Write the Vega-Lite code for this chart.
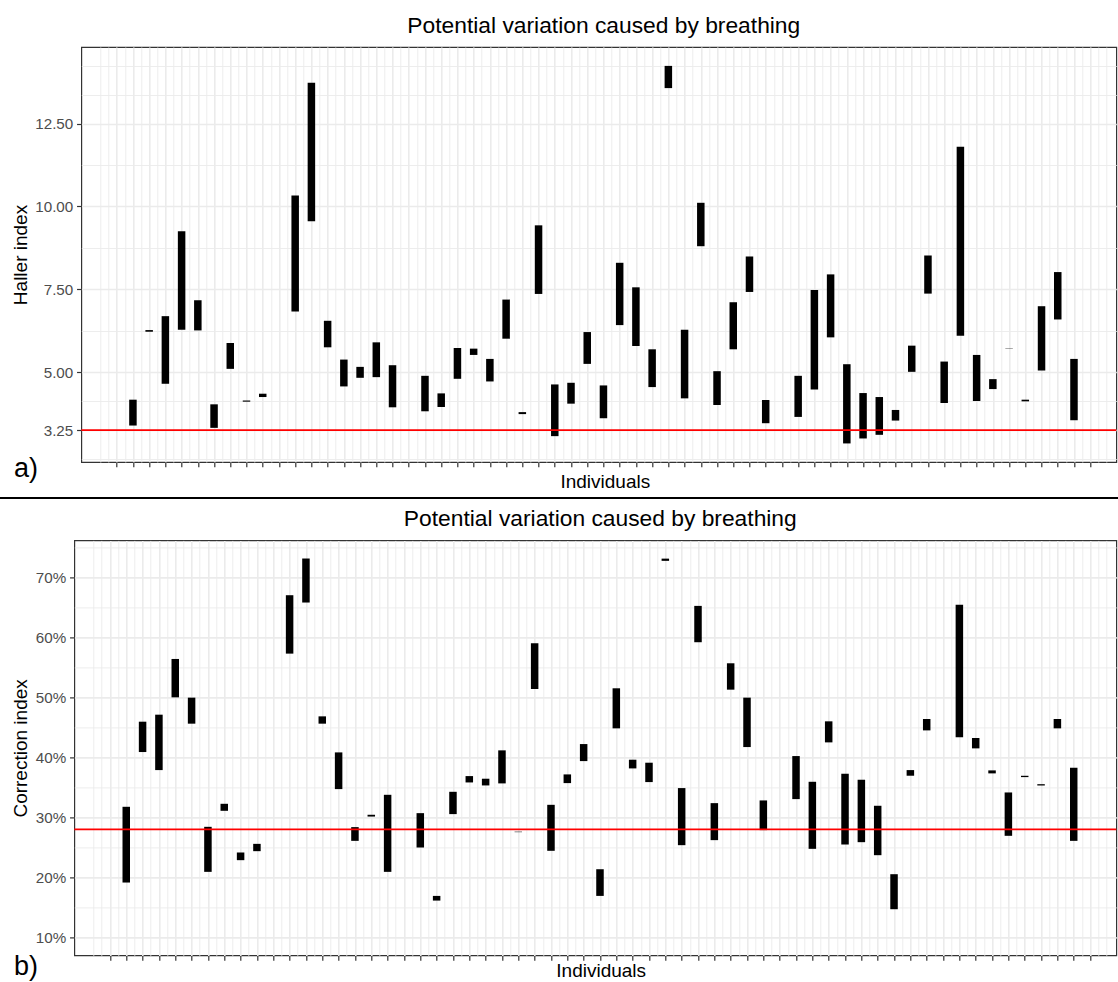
{
  "$schema": "https://vega.github.io/schema/vega-lite/v6.json",
  "padding": {"left": 0, "top": 14, "right": 0, "bottom": 0},
  "background": "white",
  "config": {
    "font": "Liberation Sans",
    "view": {"stroke": "#333333", "strokeWidth": 1.2},
    "axis": {
      "domain": false,
      "tickCount": 1000,
      "gridColor": "#EBEBEB",
      "tickColor": "#333333",
      "tickWidth": 1.2,
      "tickSize": 4.75,
      "labelColor": "#4D4D4D",
      "labelFontSize": 15.2,
      "labelPadding": 3.8,
      "titleColor": "#000000",
      "titleFontSize": 19,
      "titleFontWeight": "normal"
    },
    "title": {"fontWeight": "normal", "color": "#000000"}
  },
  "datasets": {
    "haller": [
      {"ind": 1, "lo": 3.39, "hi": 4.17},
      {"ind": 2, "lo": 6.22, "hi": 6.27},
      {"ind": 3, "lo": 4.65, "hi": 6.69},
      {"ind": 4, "lo": 6.28, "hi": 9.25},
      {"ind": 5, "lo": 6.26, "hi": 7.17},
      {"ind": 6, "lo": 3.32, "hi": 4.03},
      {"ind": 7, "lo": 5.10, "hi": 5.88},
      {"ind": 8, "lo": 4.11, "hi": 4.145},
      {"ind": 9, "lo": 4.25, "hi": 4.35},
      {"ind": 11, "lo": 6.83, "hi": 10.33},
      {"ind": 12, "lo": 9.55, "hi": 13.73},
      {"ind": 13, "lo": 5.75, "hi": 6.55},
      {"ind": 14, "lo": 4.57, "hi": 5.38},
      {"ind": 15, "lo": 4.83, "hi": 5.16},
      {"ind": 16, "lo": 4.85, "hi": 5.90},
      {"ind": 17, "lo": 3.94, "hi": 5.21},
      {"ind": 19, "lo": 3.82, "hi": 4.89},
      {"ind": 20, "lo": 3.95, "hi": 4.36},
      {"ind": 21, "lo": 4.80, "hi": 5.73},
      {"ind": 22, "lo": 5.52, "hi": 5.71},
      {"ind": 23, "lo": 4.72, "hi": 5.40},
      {"ind": 24, "lo": 6.01, "hi": 7.19},
      {"ind": 25, "lo": 3.735, "hi": 3.795},
      {"ind": 26, "lo": 7.36, "hi": 9.43},
      {"ind": 27, "lo": 3.07, "hi": 4.63},
      {"ind": 28, "lo": 4.05, "hi": 4.68},
      {"ind": 29, "lo": 5.25, "hi": 6.21},
      {"ind": 30, "lo": 3.61, "hi": 4.60},
      {"ind": 31, "lo": 6.42, "hi": 8.30},
      {"ind": 32, "lo": 5.79, "hi": 7.56},
      {"ind": 33, "lo": 4.55, "hi": 5.69},
      {"ind": 34, "lo": 13.57, "hi": 14.24},
      {"ind": 35, "lo": 4.21, "hi": 6.28},
      {"ind": 36, "lo": 8.80, "hi": 10.11},
      {"ind": 37, "lo": 4.01, "hi": 5.03},
      {"ind": 38, "lo": 5.69, "hi": 7.11},
      {"ind": 39, "lo": 7.42, "hi": 8.49},
      {"ind": 40, "lo": 3.46, "hi": 4.16},
      {"ind": 42, "lo": 3.65, "hi": 4.89},
      {"ind": 43, "lo": 4.48, "hi": 7.48},
      {"ind": 44, "lo": 6.05, "hi": 7.95},
      {"ind": 45, "lo": 2.85, "hi": 5.24},
      {"ind": 46, "lo": 3.00, "hi": 4.37},
      {"ind": 47, "lo": 3.11, "hi": 4.25},
      {"ind": 48, "lo": 3.54, "hi": 3.86},
      {"ind": 49, "lo": 5.01, "hi": 5.80},
      {"ind": 50, "lo": 7.37, "hi": 8.52},
      {"ind": 51, "lo": 4.07, "hi": 5.32},
      {"ind": 52, "lo": 6.10, "hi": 11.80},
      {"ind": 53, "lo": 4.13, "hi": 5.52},
      {"ind": 54, "lo": 4.49, "hi": 4.79},
      {"ind": 55, "lo": 5.708, "hi": 5.718},
      {"ind": 56, "lo": 4.12, "hi": 4.17},
      {"ind": 57, "lo": 5.05, "hi": 6.99},
      {"ind": 58, "lo": 6.59, "hi": 8.02},
      {"ind": 59, "lo": 3.55, "hi": 5.40}
    ],
    "correction": [
      {"ind": 1, "lo": 19.15, "hi": 31.78},
      {"ind": 2, "lo": 40.91, "hi": 45.97},
      {"ind": 3, "lo": 37.9, "hi": 47.14},
      {"ind": 4, "lo": 50.03, "hi": 56.43},
      {"ind": 5, "lo": 45.64, "hi": 49.98},
      {"ind": 6, "lo": 20.93, "hi": 28.44},
      {"ind": 7, "lo": 31.11, "hi": 32.28},
      {"ind": 8, "lo": 22.88, "hi": 24.16},
      {"ind": 9, "lo": 24.38, "hi": 25.6},
      {"ind": 11, "lo": 57.32, "hi": 67.06},
      {"ind": 12, "lo": 65.84, "hi": 73.18},
      {"ind": 13, "lo": 45.64, "hi": 46.86},
      {"ind": 14, "lo": 34.73, "hi": 40.85},
      {"ind": 15, "lo": 26.1, "hi": 28.39},
      {"ind": 16, "lo": 30.15, "hi": 30.45},
      {"ind": 17, "lo": 20.93, "hi": 33.78},
      {"ind": 19, "lo": 24.99, "hi": 30.72},
      {"ind": 20, "lo": 16.14, "hi": 16.92},
      {"ind": 21, "lo": 30.56, "hi": 34.28},
      {"ind": 22, "lo": 35.84, "hi": 36.9},
      {"ind": 23, "lo": 35.34, "hi": 36.46},
      {"ind": 24, "lo": 35.68, "hi": 41.19},
      {"ind": 25, "lo": 27.55, "hi": 27.63},
      {"ind": 26, "lo": 51.42, "hi": 59.05},
      {"ind": 27, "lo": 24.44, "hi": 32.11},
      {"ind": 28, "lo": 35.73, "hi": 37.18},
      {"ind": 29, "lo": 39.4, "hi": 42.24},
      {"ind": 30, "lo": 16.92, "hi": 21.37},
      {"ind": 31, "lo": 44.86, "hi": 51.54},
      {"ind": 32, "lo": 38.18, "hi": 39.63},
      {"ind": 33, "lo": 35.9, "hi": 39.13},
      {"ind": 34, "lo": 72.79, "hi": 73.16},
      {"ind": 35, "lo": 25.38, "hi": 34.9},
      {"ind": 36, "lo": 59.22, "hi": 65.28},
      {"ind": 37, "lo": 26.22, "hi": 32.39},
      {"ind": 38, "lo": 51.31, "hi": 55.71},
      {"ind": 39, "lo": 41.74, "hi": 49.98},
      {"ind": 40, "lo": 27.89, "hi": 32.84},
      {"ind": 42, "lo": 33.06, "hi": 40.24},
      {"ind": 43, "lo": 24.77, "hi": 35.95},
      {"ind": 44, "lo": 42.52, "hi": 46.03},
      {"ind": 45, "lo": 25.49, "hi": 37.29},
      {"ind": 46, "lo": 25.88, "hi": 36.29},
      {"ind": 47, "lo": 23.71, "hi": 31.95},
      {"ind": 48, "lo": 14.7, "hi": 20.54},
      {"ind": 49, "lo": 36.96, "hi": 37.9},
      {"ind": 50, "lo": 44.52, "hi": 46.42},
      {"ind": 52, "lo": 43.36, "hi": 65.45},
      {"ind": 53, "lo": 41.52, "hi": 43.25},
      {"ind": 54, "lo": 37.35, "hi": 37.85},
      {"ind": 55, "lo": 26.94, "hi": 34.17},
      {"ind": 56, "lo": 36.73, "hi": 36.95},
      {"ind": 57, "lo": 35.33, "hi": 35.55},
      {"ind": 58, "lo": 44.86, "hi": 46.42},
      {"ind": 59, "lo": 26.1, "hi": 38.29}
    ],
    "haller_ref": [{"ref": 3.25}],
    "correction_ref": [{"ref": 28}]
  },
  "spacing": 8.4,
  "vconcat": [
    {
      "spacing": 5,
      "vconcat": [
        {
          "title": {"text": "a)", "orient": "bottom", "anchor": "start", "frame": "bounds", "fontSize": 27, "baseline": "alphabetic", "offset": -15.3, "dx": 14},
          "spacing": 9.3,
          "hconcat": [
            {
              "width": 1, "height": 1,
              "data": {"values": []},
              "mark": "point",
              "encoding": {},
              "view": {"stroke": null}
            },
            {
              "width": 1035,
              "height": 415,
              "title": {"text": "Potential variation caused by breathing", "fontSize": 22.8, "frame": "group", "anchor": "middle", "dx": 5, "baseline": "alphabetic", "offset": -8.4},
              "layer": [
                {
                  "data": {"name": "haller"},
                  "mark": {"type": "bar", "width": 7.5, "color": "#000000"},
                  "encoding": {
                    "x": {
                      "field": "ind", "type": "quantitative",
                      "scale": {"domain": [-1.874, 61.3], "nice": false, "zero": false},
                      "axis": {
                        "title": "Individuals",
                        "titleX": 523.5,
                        "titlePadding": 4.85,
                        "labels": false,
                        "tickCount": 1000,
                        "values": [-1,-0.5,0,0.5,1,1.5,2,2.5,3,3.5,4,4.5,5,5.5,6,6.5,7,7.5,8,8.5,9,9.5,10,10.5,11,11.5,12,12.5,13,13.5,14,14.5,15,15.5,16,16.5,17,17.5,18,18.5,19,19.5,20,20.5,21,21.5,22,22.5,23,23.5,24,24.5,25,25.5,26,26.5,27,27.5,28,28.5,29,29.5,30,30.5,31,31.5,32,32.5,33,33.5,34,34.5,35,35.5,36,36.5,37,37.5,38,38.5,39,39.5,40,40.5,41,41.5,42,42.5,43,43.5,44,44.5,45,45.5,46,46.5,47,47.5,48,48.5,49,49.5,50,50.5,51,51.5,52,52.5,53,53.5,54,54.5,55,55.5,56,56.5,57,57.5,58,58.5,59,59.5,60,60.5,61],
                        "tickOpacity": {"condition": {"test": "datum.value < 0 || datum.value > 60 || datum.value % 1 !== 0", "value": 0}, "value": 1},
                        "gridWidth": {"condition": {"test": "datum.value < 0 || datum.value > 60 || datum.value % 1 !== 0", "value": 0.9}, "value": 1.6}
                      }
                    },
                    "y": {
                      "field": "lo", "type": "quantitative",
                      "title": "Haller index",
                      "scale": {"domain": [2.29, 14.81], "nice": false, "zero": false},
                      "axis": {
                        "title": "Haller index",
                        "titlePadding": 4.5,
                        "tickCount": 1000,
                        "values": [2.375, 3.25, 4.125, 5, 6.25, 7.5, 8.75, 10, 11.25, 12.5, 13.375, 14.25],
                        "labelOverlap": false,
                        "labelExpr": "(datum.value == 3.25 || datum.value == 5 || datum.value == 7.5 || datum.value == 10 || datum.value == 12.5) ? format(datum.value, '.2f') : ''",
                        "tickOpacity": {"condition": {"test": "datum.value == 2.375 || datum.value == 4.125 || datum.value == 6.25 || datum.value == 8.75 || datum.value == 11.25 || datum.value == 13.375 || datum.value == 14.25", "value": 0}, "value": 1},
                        "gridWidth": {"condition": {"test": "datum.value == 2.375 || datum.value == 4.125 || datum.value == 6.25 || datum.value == 8.75 || datum.value == 11.25 || datum.value == 13.375 || datum.value == 14.25", "value": 0.9}, "value": 1.6}
                      }
                    },
                    "y2": {"field": "hi"}
                  }
                },
                {
                  "data": {"name": "haller_ref"},
                  "mark": {"type": "rule", "color": "#FF0000", "strokeWidth": 1.7},
                  "encoding": {"y": {"field": "ref", "type": "quantitative", "title": "Haller index"}}
                }
              ]
            }
          ]
        },
        {
          "width": 1118,
          "height": 2,
          "data": {"values": []},
          "mark": "point",
          "encoding": {},
          "view": {"fill": "#000000", "stroke": null}
        }
      ]
    },
    {
      "title": {"text": "b)", "orient": "bottom", "anchor": "start", "frame": "bounds", "fontSize": 27, "baseline": "alphabetic", "offset": -6.2, "dx": 14},
      "spacing": 9.3,
      "hconcat": [
        {
          "width": 1, "height": 1,
          "data": {"values": []},
          "mark": "point",
          "encoding": {},
          "view": {"stroke": null}
        },
        {
          "width": 1042,
          "height": 415,
          "title": {"text": "Potential variation caused by breathing", "fontSize": 22.8, "frame": "group", "anchor": "middle", "dx": 5, "baseline": "alphabetic", "offset": -8.6},
          "layer": [
            {
              "data": {"name": "correction"},
              "mark": {"type": "bar", "width": 7.5, "color": "#000000"},
              "encoding": {
                "x": {
                  "field": "ind", "type": "quantitative",
                  "scale": {"domain": [-1.874, 61.3], "nice": false, "zero": false},
                  "axis": {
                    "title": "Individuals",
                    "titleX": 526.4,
                    "titlePadding": 1,
                    "labels": false,
                    "tickCount": 1000,
                    "values": [-1,-0.5,0,0.5,1,1.5,2,2.5,3,3.5,4,4.5,5,5.5,6,6.5,7,7.5,8,8.5,9,9.5,10,10.5,11,11.5,12,12.5,13,13.5,14,14.5,15,15.5,16,16.5,17,17.5,18,18.5,19,19.5,20,20.5,21,21.5,22,22.5,23,23.5,24,24.5,25,25.5,26,26.5,27,27.5,28,28.5,29,29.5,30,30.5,31,31.5,32,32.5,33,33.5,34,34.5,35,35.5,36,36.5,37,37.5,38,38.5,39,39.5,40,40.5,41,41.5,42,42.5,43,43.5,44,44.5,45,45.5,46,46.5,47,47.5,48,48.5,49,49.5,50,50.5,51,51.5,52,52.5,53,53.5,54,54.5,55,55.5,56,56.5,57,57.5,58,58.5,59,59.5,60,60.5,61],
                    "tickOpacity": {"condition": {"test": "datum.value < 0 || datum.value > 60 || datum.value % 1 !== 0", "value": 0}, "value": 1},
                    "gridWidth": {"condition": {"test": "datum.value < 0 || datum.value > 60 || datum.value % 1 !== 0", "value": 0.9}, "value": 1.6}
                  }
                },
                "y": {
                  "field": "lo", "type": "quantitative",
                  "title": "Correction index",
                  "scale": {"domain": [7.0, 76.2], "nice": false, "zero": false},
                  "axis": {
                    "title": "Correction index",
                    "titlePadding": 4.5,
                    "tickCount": 1000,
                    "values": [10, 15, 20, 25, 30, 35, 40, 45, 50, 55, 60, 65, 70, 75],
                    "labelOverlap": false,
                    "labelExpr": "datum.value % 10 === 0 ? format(datum.value, 'd') + '%' : ''",
                    "tickOpacity": {"condition": {"test": "datum.value % 10 !== 0", "value": 0}, "value": 1},
                    "gridWidth": {"condition": {"test": "datum.value % 10 !== 0", "value": 0.9}, "value": 1.6}
                  }
                },
                "y2": {"field": "hi"}
              }
            },
            {
              "data": {"name": "correction_ref"},
              "mark": {"type": "rule", "color": "#FF0000", "strokeWidth": 1.7},
              "encoding": {"y": {"field": "ref", "type": "quantitative", "title": "Correction index"}}
            }
          ]
        }
      ]
    }
  ]
}
